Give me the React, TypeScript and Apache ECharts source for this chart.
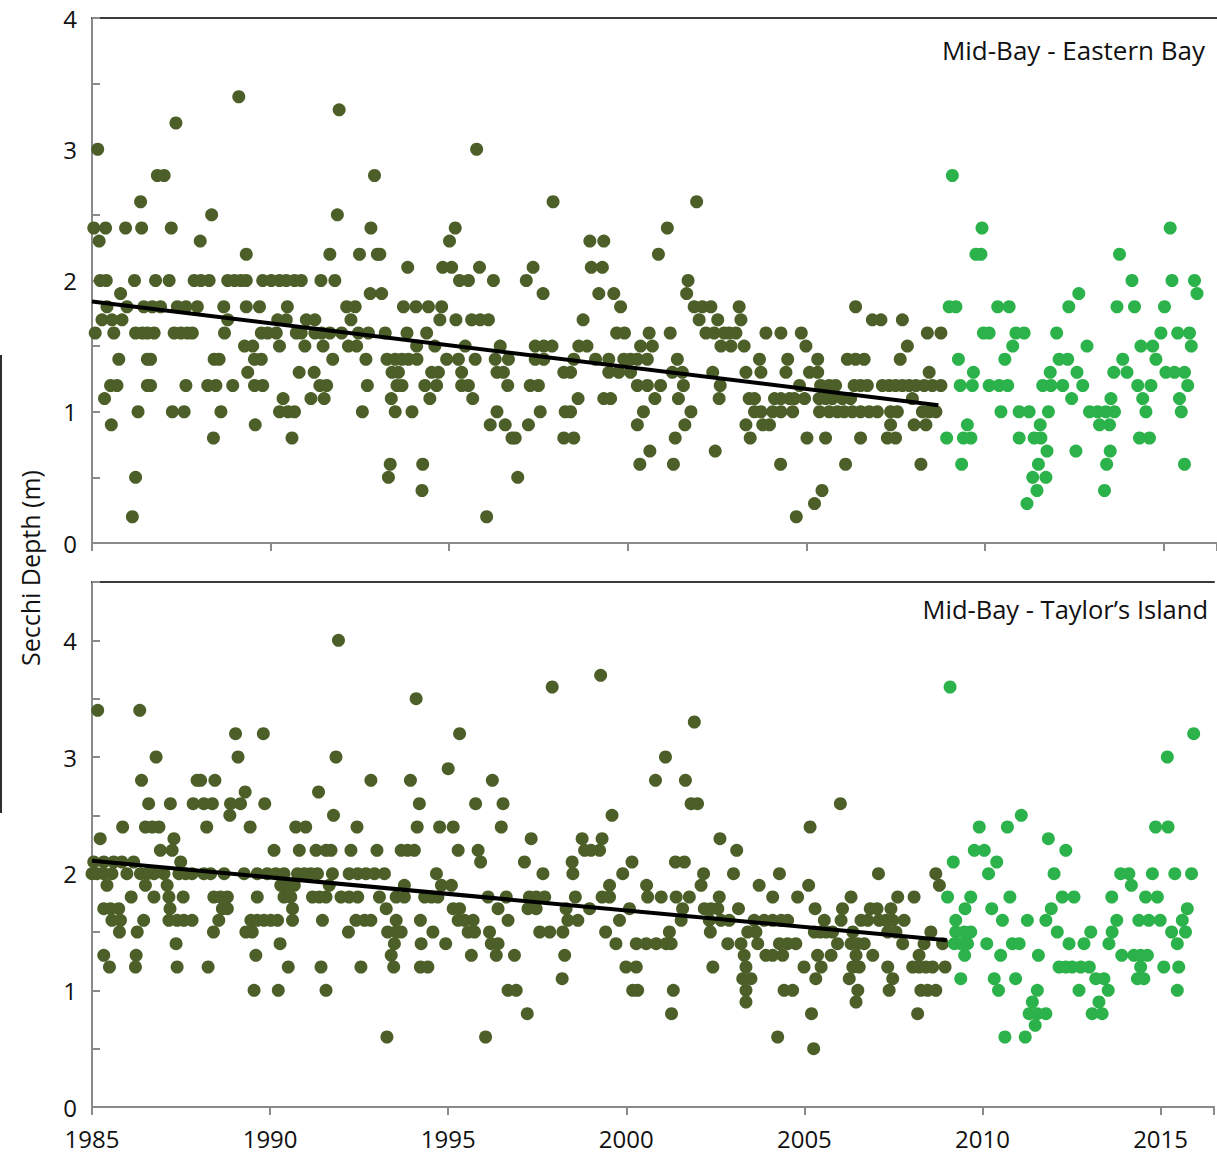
import React, { useEffect, useRef } from 'react';
import * as echarts from 'echarts';

const FONT = '"Open Sans", "Noto Sans", "DejaVu Sans", sans-serif';
const DARK = '#4c5f28';
const BRIGHT = '#2cb24b';

type Row = [number, number[]];

// Each row: [Secchi depth (m), [sampling dates as decimal years]]
const eastDarkRows: Row[] = [
  [3.4, [1989.11]],
  [3.3, [1991.92]],
  [3.2, [1987.35]],
  [3.0, [1985.16, 1995.77]],
  [2.8, [1986.83, 1987.02, 1992.91]],
  [2.6, [1986.36, 1997.91, 2001.93]],
  [2.5, [1988.35, 1991.87]],
  [2.4, [1985.05, 1985.38, 1985.94, 1986.39, 1987.22, 1992.81, 1995.17, 2001.11]],
  [2.3, [1985.2, 1988.03, 1995.01, 1998.94, 1999.33]],
  [2.2, [1989.32, 1991.66, 1992.49, 1992.99, 1993.06, 2000.86]],
  [2.1, [1993.84, 1994.82, 1995.07, 1995.85, 1997.35, 1998.98, 1999.29]],
  [2.0, [1985.23, 1985.4, 1986.19, 1986.78, 1987.16, 1987.86, 1988.05, 1988.28, 1988.8, 1988.99, 1989.17, 1989.32, 1989.78, 1990.02, 1990.25, 1990.44, 1990.67, 1990.86, 1991.41, 1991.8, 1995.29, 1995.54, 1996.24, 1997.16, 2001.69]],
  [1.9, [1985.8, 1992.79, 1993.11, 1997.63, 1999.19, 1999.61, 2001.65]],
  [1.8, [1985.42, 1985.98, 1986.45, 1986.69, 1986.92, 1987.39, 1987.63, 1987.95, 1988.69, 1989.32, 1989.69, 1990.47, 1992.13, 1992.37, 1993.72, 1994.07, 1994.42, 1994.79, 1999.8, 2001.86, 2002.09, 2002.33, 2003.12, 2006.38]],
  [1.7, [1985.28, 1985.56, 1985.84, 1988.8, 1990.2, 1990.44, 1991.0, 1991.24, 1992.25, 1994.74, 1995.19, 1995.63, 1995.87, 1996.1, 1998.75, 2002.0, 2002.52, 2003.17, 2006.85, 2007.09, 2007.69]],
  [1.6, [1985.09, 1985.61, 1986.22, 1986.41, 1986.55, 1986.74, 1987.3, 1987.49, 1987.67, 1987.81, 1988.71, 1989.74, 1989.92, 1990.16, 1990.72, 1990.86, 1991.24, 1991.43, 1991.66, 1991.99, 1992.46, 1992.74, 1993.21, 1993.82, 1994.37, 1999.69, 1999.91, 2000.6, 2001.19, 2002.19, 2002.42, 2002.7, 2002.84, 2003.03, 2003.87, 2004.29, 2004.86, 2008.39, 2008.77]],
  [1.5, [1989.27, 1989.5, 1990.25, 1990.96, 1991.47, 1992.18, 1992.41, 1994.09, 1994.6, 1995.45, 1996.43, 1997.41, 1997.65, 1997.88, 1998.63, 1998.86, 2000.36, 2000.69, 2002.61, 2002.89, 2003.26, 2004.99, 2007.83]],
  [1.4, [1985.75, 1986.55, 1986.64, 1988.42, 1988.56, 1989.55, 1989.74, 1991.74, 1992.67, 1993.26, 1993.49, 1993.68, 1993.86, 1994.1, 1994.93, 1995.26, 1995.73, 1996.29, 1996.66, 1997.41, 1997.65, 1998.49, 1999.1, 1999.47, 1999.89, 2000.08, 2000.27, 2000.55, 2001.39, 2003.69, 2004.48, 2005.32, 2006.15, 2006.38, 2006.62, 2007.63]],
  [1.3, [1989.36, 1990.8, 1991.22, 1993.4, 1993.58, 1994.51, 1994.7, 1995.35, 1996.34, 1996.52, 1998.21, 1998.4, 1999.47, 1999.75, 2000.08, 2001.25, 2001.53, 2002.38, 2003.31, 2003.73, 2004.43, 2005.09, 2005.32, 2008.44]],
  [1.2, [1985.52, 1985.7, 1986.55, 1986.64, 1987.63, 1988.24, 1988.47, 1988.94, 1989.55, 1989.78, 1991.38, 1991.57, 1992.71, 1993.54, 1993.68, 1994.32, 1994.65, 1995.35, 1995.54, 1996.64, 1997.27, 1997.5, 2000.27, 2000.55, 2000.92, 2001.56, 2002.59, 2004.81, 2005.4, 2005.64, 2005.82, 2006.34, 2006.52, 2006.71, 2007.13, 2007.32, 2007.5, 2007.69, 2007.88, 2008.07, 2008.3, 2008.53, 2008.77]],
  [1.1, [1985.35, 1990.35, 1991.13, 1991.5, 1993.38, 1994.46, 1995.66, 1998.61, 1999.33, 1999.52, 2000.76, 2001.42, 2002.56, 2003.4, 2003.55, 2004.11, 2004.29, 2004.53, 2004.67, 2004.95, 2005.36, 2005.54, 2005.73, 2006.01, 2006.24, 2007.97]],
  [1.0, [1986.29, 1987.25, 1987.58, 1988.61, 1990.25, 1990.49, 1990.67, 1992.57, 1993.49, 1993.96, 1996.34, 1997.55, 1998.25, 1998.4, 2000.44, 2001.77, 2003.55, 2003.73, 2004.06, 2004.29, 2004.62, 2005.37, 2005.64, 2005.87, 2006.06, 2006.29, 2006.52, 2006.76, 2006.99, 2007.36, 2007.55, 2008.25, 2008.44, 2008.63]],
  [0.9, [1985.54, 1989.57, 1996.15, 1996.57, 1997.22, 2000.27, 2001.6, 2003.31, 2003.78, 2003.97, 2007.36, 2008.02, 2008.35]],
  [0.8, [1988.4, 1990.6, 1996.76, 1996.85, 1998.21, 1998.49, 2001.33, 2003.43, 2005.02, 2005.54, 2006.52, 2007.27, 2007.5]],
  [0.7, [2000.62, 2002.45]],
  [0.6, [1993.35, 1994.26, 2000.34, 2001.28, 2004.28, 2006.1, 2008.21]],
  [0.5, [1986.22, 1993.3, 1996.92]],
  [0.4, [1994.24, 2005.44]],
  [0.3, [2005.23]],
  [0.2, [1986.13, 1996.05, 2004.72]],
];

const eastBrightRows: Row[] = [
  [2.8, [2009.09]],
  [2.4, [2009.92, 2015.19]],
  [2.2, [2009.75, 2009.89, 2013.77]],
  [2.0, [2014.12, 2015.24, 2015.87]],
  [1.9, [2012.63, 2015.94]],
  [1.8, [2009.0, 2009.19, 2010.36, 2010.68, 2012.35, 2013.7, 2014.19, 2015.03]],
  [1.6, [2009.96, 2010.12, 2010.87, 2011.1, 2012.01, 2014.93, 2015.4, 2015.73]],
  [1.5, [2010.78, 2012.86, 2014.37, 2014.7, 2015.78]],
  [1.4, [2009.26, 2010.56, 2012.08, 2012.32, 2013.86, 2014.79]],
  [1.3, [2009.68, 2011.83, 2012.58, 2013.61, 2013.98, 2015.07, 2015.31, 2015.59]],
  [1.2, [2009.31, 2009.65, 2010.12, 2010.4, 2010.64, 2011.62, 2011.85, 2012.18, 2012.74, 2014.28, 2014.65, 2015.68]],
  [1.1, [2012.43, 2013.53, 2014.42, 2015.45]],
  [1.0, [2010.45, 2010.96, 2011.24, 2011.78, 2012.93, 2013.16, 2013.39, 2013.63, 2014.51, 2015.5]],
  [0.9, [2009.51, 2011.55, 2013.21, 2013.49]],
  [0.8, [2008.93, 2009.4, 2009.61, 2010.96, 2011.38, 2011.57, 2014.33, 2014.61]],
  [0.7, [2011.74, 2012.55, 2013.51]],
  [0.6, [2009.35, 2011.5, 2013.41, 2015.59]],
  [0.5, [2011.34, 2011.71]],
  [0.4, [2011.46, 2013.35]],
  [0.3, [2011.18]],
];

const taylorDarkRows: Row[] = [
  [4.0, [1991.92]],
  [3.7, [1999.28]],
  [3.6, [1997.92]],
  [3.5, [1994.1]],
  [3.4, [1985.16, 1986.34]],
  [3.3, [2001.91]],
  [3.2, [1989.03, 1989.81, 1995.32]],
  [3.0, [1986.8, 1989.1, 1991.85, 2001.1]],
  [2.9, [1995.0]],
  [2.8, [1986.39, 1987.95, 1988.05, 1988.45, 1992.83, 1993.94, 1996.24, 2000.82, 2001.66]],
  [2.7, [1989.3, 1991.36]],
  [2.6, [1986.59, 1987.2, 1987.84, 1988.14, 1988.38, 1988.89, 1989.17, 1989.85, 1994.19, 1995.77, 1996.54, 2001.82, 2002.0, 2006.01]],
  [2.5, [1988.87, 1991.78, 1999.6]],
  [2.4, [1985.86, 1986.5, 1986.69, 1986.88, 1988.22, 1989.44, 1990.72, 1991.0, 1992.44, 1994.13, 1994.76, 1995.14, 1996.49, 2005.16]],
  [2.3, [1985.23, 1987.3, 1997.33, 1998.76, 1999.32, 2002.63]],
  [2.2, [1986.92, 1987.25, 1990.11, 1990.82, 1991.29, 1991.57, 1991.71, 1992.27, 1993.0, 1993.68, 1993.86, 1994.05, 1995.28, 1995.84, 1998.83, 1999.01, 1999.25, 2003.1]],
  [2.1, [1985.05, 1985.33, 1985.61, 1985.84, 1986.17, 1987.49, 1995.91, 1997.14, 1998.48, 2000.16, 2001.38, 2001.63]],
  [2.0, [1985.0, 1985.14, 1985.33, 1985.56, 1985.98, 1986.36, 1986.55, 1986.74, 1987.02, 1987.44, 1987.63, 1987.81, 1988.14, 1988.33, 1988.71, 1989.27, 1989.64, 1989.92, 1990.16, 1990.39, 1990.77, 1990.96, 1991.14, 1991.33, 1991.75, 1992.22, 1992.46, 1992.69, 1992.93, 1993.21, 1994.67, 1997.66, 1998.5, 1999.9, 2002.17, 2003.01, 2004.3, 2007.08, 2008.69]],
  [1.9, [1985.42, 1986.5, 1987.11, 1990.3, 1990.49, 1990.68, 1991.66, 1993.77, 1994.81, 1995.09, 1999.53, 2000.57, 2002.1, 2003.73, 2005.12, 2008.79]],
  [1.8, [1986.1, 1986.74, 1987.16, 1987.56, 1988.42, 1988.61, 1988.8, 1989.64, 1990.39, 1990.58, 1991.19, 1991.38, 1991.57, 1991.99, 1992.22, 1992.46, 1993.07, 1993.54, 1993.77, 1994.34, 1994.53, 1994.71, 1996.12, 1996.63, 1997.28, 1997.47, 1997.71, 1998.57, 1999.32, 1999.53, 2000.6, 2000.98, 2001.4, 2001.77, 2002.61, 2004.11, 2004.81, 2006.31, 2007.62, 2008.08]],
  [1.7, [1985.33, 1985.52, 1985.75, 1987.19, 1988.66, 1988.8, 1990.63, 1993.26, 1995.14, 1995.32, 1996.4, 1997.24, 1997.47, 1998.31, 1998.97, 2000.09, 2001.58, 2002.19, 2002.38, 2002.57, 2003.15, 2005.3, 2006.07, 2006.85, 2007.04, 2007.43]],
  [1.6, [1985.56, 1985.8, 1986.45, 1987.16, 1987.39, 1987.58, 1987.81, 1988.56, 1989.46, 1989.64, 1989.83, 1990.02, 1990.21, 1990.63, 1991.47, 1992.41, 1992.65, 1992.83, 1993.54, 1994.22, 1995.28, 1995.46, 1995.7, 1996.68, 1998.36, 1998.64, 1999.81, 2001.54, 2002.33, 2002.66, 2002.89, 2003.59, 2003.87, 2004.11, 2004.35, 2004.53, 2005.56, 2006.03, 2006.59, 2006.78, 2007.1, 2007.29, 2007.48, 2007.8]],
  [1.5, [1985.77, 1986.27, 1988.41, 1989.32, 1989.5, 1992.2, 1993.3, 1993.54, 1993.68, 1994.57, 1995.56, 1995.74, 1996.16, 1997.57, 1997.85, 1998.22, 1999.42, 2001.21, 2002.36, 2003.41, 2003.64, 2005.28, 2005.45, 2005.61, 2005.79, 2006.36, 2007.34, 2007.57, 2008.55]],
  [1.4, [1987.36, 1990.28, 1993.49, 1994.24, 1994.93, 1996.21, 1996.4, 1999.71, 2000.28, 2000.56, 2000.84, 2001.12, 2001.26, 2002.85, 2003.22, 2003.69, 2004.3, 2004.53, 2004.76, 2005.93, 2006.31, 2006.5, 2006.68, 2007.76, 2008.36, 2008.88]],
  [1.3, [1985.33, 1986.24, 1989.6, 1993.4, 1995.65, 1996.35, 1996.86, 1998.27, 2003.31, 2003.92, 2004.11, 2004.39, 2005.37, 2005.75, 2006.45, 2006.92, 2008.22]],
  [1.2, [1985.49, 1986.22, 1987.39, 1988.26, 1990.51, 1991.43, 1992.55, 1993.47, 1994.22, 1994.43, 1999.99, 2000.28, 2002.43, 2003.36, 2004.99, 2005.47, 2006.36, 2006.54, 2007.34, 2008.04, 2008.22, 2008.41, 2008.6, 2008.95]],
  [1.1, [1998.2, 2003.27, 2003.5, 2005.32, 2006.26, 2007.48]],
  [1.0, [1989.55, 1990.23, 1991.57, 1996.68, 1996.91, 2000.18, 2000.32, 2001.32, 2003.36, 2004.43, 2004.67, 2006.5, 2007.38, 2008.27, 2008.46, 2008.69]],
  [0.9, [2003.36, 2006.45]],
  [0.8, [1997.22, 2001.27, 2005.2, 2008.18]],
  [0.6, [1993.28, 1996.05, 2004.25]],
  [0.5, [2005.26]],
];

const taylorBrightRows: Row[] = [
  [3.6, [2009.09]],
  [3.2, [2015.93]],
  [3.0, [2015.19]],
  [2.5, [2011.09]],
  [2.4, [2009.91, 2010.7, 2014.86, 2015.21]],
  [2.3, [2011.85]],
  [2.2, [2009.77, 2010.05, 2012.34]],
  [2.1, [2009.18, 2010.4]],
  [2.0, [2010.17, 2012.01, 2013.88, 2014.11, 2014.77, 2015.4, 2015.87]],
  [1.9, [2014.18]],
  [1.8, [2009.02, 2009.67, 2010.77, 2012.24, 2012.57, 2013.63, 2014.58, 2014.91]],
  [1.7, [2009.51, 2010.26, 2011.93, 2015.75]],
  [1.6, [2009.25, 2010.56, 2011.26, 2011.78, 2013.77, 2014.39, 2014.67, 2014.99, 2015.61]],
  [1.5, [2009.25, 2009.49, 2009.67, 2012.1, 2013.04, 2013.64, 2015.31, 2015.7]],
  [1.4, [2009.21, 2009.39, 2009.58, 2010.12, 2010.84, 2011.03, 2012.43, 2012.85, 2013.55, 2015.47]],
  [1.3, [2009.5, 2010.51, 2011.57, 2013.91, 2014.25, 2014.44, 2014.63]],
  [1.2, [2012.15, 2012.34, 2012.52, 2012.76, 2013.0, 2014.44, 2015.09, 2015.51]],
  [1.1, [2009.39, 2010.33, 2010.93, 2013.18, 2013.41, 2014.35, 2014.53]],
  [1.0, [2010.45, 2011.54, 2012.71, 2013.53, 2015.47]],
  [0.9, [2011.4, 2013.27]],
  [0.8, [2011.31, 2011.54, 2011.78, 2013.08, 2013.36]],
  [0.7, [2011.48]],
  [0.6, [2010.63, 2011.2]],
];

// Linear trend lines (1985 - 2009) : [year, depth]
const eastTrend: number[][] = [[1985.0, 1.84], [2008.7, 1.05]];
const taylorTrend: number[][] = [[1985.0, 2.11], [2009.0, 1.43]];

const panelTitles = ['Mid-Bay - Eastern Bay', 'Mid-Bay - Taylor\u2019s Island'];
const yAxisTitle = 'Secchi Depth (m)';
const xMin = 1985;
const xMax = 2016.5;
const yMaxes = [4, 4.5];

function toPoints(rows: Row[]): number[][] {
  const out: number[][] = [];
  rows.forEach(([depth, years]) => years.forEach((yr) => out.push([yr, depth])));
  return out;
}

const AXIS_GRAY = '#8a8a8a';

export default function App() {
  const ref = useRef<HTMLDivElement>(null);

  useEffect(() => {
    if (!ref.current) return;
    const chart = echarts.init(ref.current, undefined, { renderer: 'svg' });

    const bottomXAxis = (gridIndex: number, showLabels: boolean) => ({
      type: 'value',
      gridIndex,
      min: xMin,
      max: xMax,
      interval: 5,
      axisLine: { show: true, onZero: false, lineStyle: { color: AXIS_GRAY, width: 2 } },
      axisTick: { show: true, inside: false, length: 8, lineStyle: { color: AXIS_GRAY, width: 2 } },
      axisLabel: {
        show: showLabels,
        fontSize: 24,
        lineHeight: 20,
        fontFamily: FONT,
        color: '#111',
        margin: 21,
        formatter: (v: number) => (v % 5 === 0 && v <= 2015 ? String(v) : ''),
      },
      splitLine: { show: false },
    });

    const topXAxis = (gridIndex: number) => ({
      type: 'value',
      gridIndex,
      position: 'top',
      min: xMin,
      max: xMax,
      axisLine: { show: true, onZero: false, lineStyle: { color: '#3a3a3a', width: 2 } },
      axisTick: { show: false },
      axisLabel: { show: false },
      splitLine: { show: false },
    });

    const yAxis = (gridIndex: number, max: number) => ({
      type: 'value',
      gridIndex,
      min: 0,
      max,
      interval: 0.5,
      axisLine: { show: true, lineStyle: { color: AXIS_GRAY, width: 2 } },
      axisTick: { show: true, inside: true, length: 8, lineStyle: { color: AXIS_GRAY, width: 2 } },
      axisLabel: {
        fontSize: 24,
        lineHeight: 20,
        fontFamily: FONT,
        color: '#111',
        margin: 15,
        formatter: (v: number) => (Number.isInteger(v) && v <= 4 ? String(v) : ''),
      },
      splitLine: { show: false },
    });

    const scatter = (idx: number, data: number[][], color: string) => ({
      type: 'scatter',
      xAxisIndex: idx,
      yAxisIndex: idx,
      data,
      symbol: 'circle',
      symbolSize: 13,
      itemStyle: { color, opacity: 1 },
      z: 2,
      silent: true,
    });

    const trend = (idx: number, data: number[][]) => ({
      type: 'line',
      xAxisIndex: idx,
      yAxisIndex: idx,
      data,
      showSymbol: false,
      symbol: 'none',
      lineStyle: { color: '#000', width: 4 },
      z: 5,
      silent: true,
    });

    chart.setOption({
      animation: false,
      backgroundColor: '#ffffff',
      textStyle: { fontFamily: FONT },
      title: [
        {
          text: panelTitles[0],
          right: 7,
          top: 32,
          textStyle: { fontSize: 26, fontWeight: 'normal', color: '#111', fontFamily: FONT },
        },
        {
          text: panelTitles[1],
          right: 4,
          top: 591,
          textStyle: { fontSize: 25.5, fontWeight: 'normal', color: '#111', fontFamily: FONT },
        },
      ],
      grid: [
        { left: 92, top: 18, right: 0, height: 525, containLabel: false },
        { left: 92, top: 582, right: 0, height: 525, containLabel: false },
      ],
      xAxis: [bottomXAxis(0, false), bottomXAxis(1, true), topXAxis(0), topXAxis(1)],
      yAxis: [yAxis(0, yMaxes[0]), yAxis(1, yMaxes[1])],
      series: [
        scatter(0, toPoints(eastDarkRows), DARK),
        scatter(0, toPoints(eastBrightRows), BRIGHT),
        trend(0, eastTrend),
        scatter(1, toPoints(taylorDarkRows), DARK),
        scatter(1, toPoints(taylorBrightRows), BRIGHT),
        trend(1, taylorTrend),
      ],
      graphic: [
        {
          type: 'text',
          x: 30,
          y: 568,
          rotation: Math.PI / 2,
          style: {
            text: yAxisTitle,
            fontSize: 25,
            fontFamily: FONT,
            fill: '#111',
            textAlign: 'center',
            textVerticalAlign: 'middle',
          },
        },
        {
          type: 'line',
          shape: { x1: 1, y1: 355, x2: 1, y2: 813 },
          style: { stroke: '#2e2e2e', lineWidth: 2 },
        },
      ],
    });

    return () => chart.dispose();
  }, []);

  return (
    <div
      ref={ref}
      style={{ position: 'absolute', left: 0, top: 0, width: 1217, height: 1155, background: '#fff' }}
    />
  );
}
